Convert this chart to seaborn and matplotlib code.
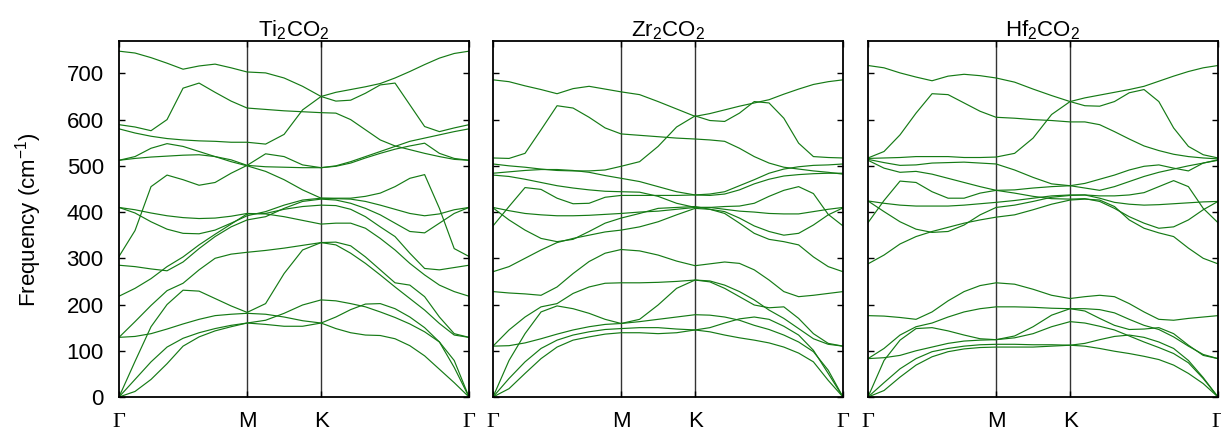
import numpy as np
import pandas as pd
import matplotlib
matplotlib.use("Agg")
import matplotlib.pyplot as plt
import seaborn as sns

# high-symmetry path G-M-K-G of the hexagonal zone (units of 2pi/a)
seg_gm, seg_mk, seg_kg = 1 / np.sqrt(3), 1 / 3, 2 / 3
k_m = seg_gm
k_k = seg_gm + seg_mk
k_end = k_k + seg_kg
kpath = np.concatenate([np.linspace(0, k_m, 9),
                        np.linspace(k_m, k_k, 5)[1:],
                        np.linspace(k_k, k_end, 11)[1:]])
kticks = [0, k_m, k_k, k_end]
klabels = ["Γ", "M", "K", "Γ"]

# phonon branches (cm^-1), one row per branch, 23 k-points
ti2co2 = [
    [748, 744, 734, 722, 709, 716, 720, 712, 703, 701, 690, 672, 650, 659, 665, 671, 678, 690, 704, 719, 733, 743, 748],
    [589, 584, 576, 600, 668, 679, 659, 640, 625, 622, 619, 617, 615, 614, 600, 578, 556, 543, 535, 527, 520, 514, 512],
    [580, 571, 564, 559, 556, 554, 553, 551, 551, 547, 568, 621, 650, 640, 642, 657, 675, 679, 632, 585, 574, 582, 589],
    [512, 520, 538, 548, 542, 531, 520, 509, 500, 488, 470, 448, 430, 430, 430, 434, 441, 455, 473, 481, 408, 321, 304],
    [304, 360, 455, 480, 470, 458, 464, 484, 501, 526, 520, 502, 496, 499, 506, 517, 527, 536, 543, 549, 527, 516, 512],
    [512, 516, 519, 521, 523, 524, 520, 513, 501, 498, 497, 496, 496, 500, 509, 520, 531, 542, 553, 560, 567, 574, 580],
    [410, 405, 398, 392, 388, 386, 387, 391, 397, 396, 390, 382, 374, 376, 376, 365, 343, 318, 289, 264, 242, 228, 218],
    [410, 398, 379, 363, 354, 353, 361, 376, 392, 401, 415, 426, 430, 429, 428, 423, 415, 406, 397, 392, 396, 405, 410],
    [285, 282, 277, 273, 292, 321, 347, 368, 383, 390, 408, 423, 428, 426, 419, 408, 394, 376, 358, 355, 376, 397, 410],
    [218, 235, 256, 282, 303, 329, 352, 374, 396, 397, 406, 412, 415, 414, 406, 390, 368, 347, 311, 278, 275, 280, 285],
    [129, 163, 198, 230, 246, 275, 300, 309, 313, 317, 322, 328, 334, 335, 327, 303, 275, 247, 242, 217, 173, 137, 129],
    [0, 77, 152, 200, 231, 229, 213, 197, 183, 202, 267, 318, 334, 329, 311, 289, 264, 238, 213, 188, 159, 134, 129],
    [129, 131, 137, 147, 158, 168, 176, 179, 181, 179, 173, 165, 160, 173, 189, 201, 202, 191, 173, 150, 119, 64, 0],
    [0, 38, 76, 108, 127, 139, 148, 155, 160, 166, 181, 199, 210, 208, 202, 195, 184, 172, 158, 141, 119, 79, 0],
    [0, 12, 38, 72, 110, 130, 143, 152, 160, 157, 153, 153, 160, 148, 139, 134, 133, 126, 111, 89, 60, 31, 0],
]

zr2co2 = [
    [686, 682, 673, 665, 656, 667, 672, 666, 660, 654, 639, 623, 607, 613, 621, 629, 636, 643, 655, 666, 676, 682, 686],
    [517, 516, 527, 578, 630, 625, 605, 582, 569, 566, 563, 560, 558, 556, 553, 538, 520, 506, 497, 493, 489, 486, 482],
    [504, 500, 497, 493, 490, 489, 489, 491, 499, 509, 542, 584, 608, 598, 596, 614, 639, 636, 603, 549, 520, 518, 517],
    [484, 487, 490, 492, 492, 490, 486, 479, 473, 466, 455, 444, 437, 439, 444, 457, 470, 484, 493, 498, 501, 502, 504],
    [370, 412, 453, 449, 430, 418, 419, 432, 436, 436, 436, 436, 437, 436, 439, 448, 461, 471, 478, 481, 483, 484, 484],
    [480, 477, 471, 464, 457, 452, 448, 445, 444, 443, 434, 419, 410, 410, 412, 413, 419, 434, 447, 455, 440, 395, 370],
    [410, 403, 397, 394, 392, 392, 393, 395, 397, 400, 402, 406, 410, 410, 406, 402, 400, 397, 396, 396, 401, 406, 410],
    [409, 383, 361, 343, 336, 341, 358, 376, 387, 397, 408, 410, 412, 406, 401, 387, 370, 358, 350, 354, 372, 394, 409],
    [271, 282, 300, 318, 334, 343, 350, 357, 361, 368, 379, 394, 408, 406, 397, 376, 354, 341, 336, 329, 303, 282, 271],
    [228, 225, 223, 220, 238, 267, 293, 311, 319, 316, 307, 294, 284, 288, 292, 289, 275, 253, 228, 217, 220, 224, 228],
    [110, 145, 173, 195, 202, 224, 238, 246, 247, 247, 248, 250, 253, 249, 235, 217, 199, 193, 195, 170, 137, 116, 110],
    [0, 79, 137, 184, 197, 191, 181, 168, 159, 168, 199, 235, 253, 251, 242, 228, 210, 188, 170, 148, 126, 114, 110],
    [110, 111, 117, 126, 136, 145, 152, 157, 159, 163, 168, 173, 178, 177, 173, 166, 155, 146, 134, 119, 98, 58, 0],
    [0, 40, 76, 105, 123, 134, 141, 146, 148, 150, 150, 147, 145, 150, 160, 169, 173, 168, 153, 134, 101, 51, 0],
    [0, 18, 51, 83, 108, 123, 130, 136, 139, 139, 137, 139, 145, 141, 134, 128, 123, 117, 108, 95, 76, 36, 0],
]

hf2co2 = [
    [717, 712, 701, 692, 684, 694, 698, 695, 690, 681, 666, 652, 639, 647, 653, 659, 665, 672, 683, 694, 704, 712, 717],
    [517, 531, 567, 614, 656, 654, 636, 618, 605, 603, 600, 598, 595, 595, 589, 574, 558, 543, 533, 525, 520, 517, 515],
    [516, 517, 518, 520, 520, 520, 518, 518, 519, 527, 560, 611, 639, 630, 629, 639, 658, 665, 639, 582, 542, 524, 517],
    [514, 507, 501, 502, 506, 507, 508, 506, 504, 491, 475, 461, 457, 462, 471, 480, 491, 499, 502, 495, 489, 506, 513],
    [512, 495, 486, 488, 482, 473, 464, 455, 447, 441, 434, 429, 428, 429, 423, 408, 390, 376, 365, 368, 383, 405, 423],
    [377, 425, 467, 464, 444, 430, 430, 441, 447, 448, 452, 455, 457, 452, 447, 455, 466, 477, 486, 493, 500, 506, 512],
    [424, 419, 415, 413, 413, 413, 415, 418, 421, 425, 430, 435, 437, 437, 435, 435, 437, 442, 455, 468, 455, 408, 377],
    [424, 401, 379, 363, 356, 358, 372, 394, 410, 415, 423, 432, 436, 437, 430, 421, 417, 415, 416, 418, 420, 422, 423],
    [288, 307, 331, 347, 358, 367, 376, 383, 389, 394, 405, 417, 426, 428, 426, 412, 383, 365, 355, 347, 322, 300, 288],
    [176, 175, 172, 168, 184, 208, 228, 241, 247, 244, 233, 220, 213, 217, 220, 217, 202, 184, 168, 166, 170, 173, 176],
    [83, 105, 134, 152, 160, 173, 184, 191, 195, 195, 194, 192, 191, 191, 189, 182, 168, 155, 146, 130, 110, 92, 83],
    [0, 79, 123, 148, 150, 143, 134, 126, 124, 132, 152, 177, 191, 186, 170, 155, 146, 147, 150, 137, 112, 90, 83],
    [83, 85, 90, 100, 108, 116, 121, 123, 124, 128, 137, 152, 163, 160, 153, 145, 132, 119, 107, 94, 74, 40, 0],
    [0, 31, 61, 83, 98, 105, 110, 113, 114, 114, 113, 113, 112, 116, 124, 131, 134, 129, 119, 105, 79, 42, 0],
    [0, 14, 43, 69, 87, 98, 104, 107, 108, 108, 108, 110, 112, 110, 105, 99, 94, 88, 81, 69, 51, 29, 0],
]

titles = ["Ti$_2$CO$_2$", "Zr$_2$CO$_2$", "Hf$_2$CO$_2$"]
yticks = [0, 100, 200, 300, 400, 500, 600, 700]

plt.rcParams["font.family"] = ["Liberation Sans", "DejaVu Sans"]
plt.rcParams["mathtext.default"] = "regular"

fig = plt.figure(figsize=(12.21, 4.30), dpi=100)
lefts = [119 / 1221, 493 / 1221, 868 / 1221]
band_color = "#157a15"
fs = 16

for n, (bands, title) in enumerate(zip([ti2co2, zr2co2, hf2co2], titles)):
    ax = fig.add_axes([lefts[n], 33 / 430, 350 / 1221, 356 / 430])
    rows = []
    for b, freqs in enumerate(bands):
        for k, f in zip(kpath, freqs):
            rows.append({"k": k, "freq": f, "band": b})
    df = pd.DataFrame(rows)
    sns.lineplot(data=df, x="k", y="freq", units="band", estimator=None,
                 color=band_color, lw=0.85, legend=False, ax=ax)

    for kx in (k_m, k_k):
        ax.axvline(kx, color="#333333", lw=1.0, zorder=1)

    ax.set_xlim(0, k_end)
    ax.set_ylim(0, 770)
    ax.set_xticks(kticks)
    ax.set_xticklabels(klabels)
    for lbl in ax.get_xticklabels():
        lbl.set_verticalalignment("baseline")
        if lbl.get_text() == "Γ":
            lbl.set_family("Liberation Serif")
            lbl.set_fontsize(fs + 1)
    ax.set_yticks(yticks)
    ax.tick_params(axis="both", direction="in", length=4, width=1,
                   top=True, right=True, labelsize=fs)
    ax.tick_params(axis="x", pad=21.5)
    ax.tick_params(axis="y", pad=11)
    if n > 0:
        ax.set_yticklabels([])
    ax.set_xlabel("")
    ax.set_ylabel("")
    ax.set_title(title, fontsize=fs, pad=3)
    for sp in ax.spines.values():
        sp.set_linewidth(1.3)

fig.text(0.0235, 0.49, "Frequency (cm$^{-1}$)", rotation=90,
         ha="center", va="center", fontsize=fs)

fig.savefig("out.png", dpi=100)
